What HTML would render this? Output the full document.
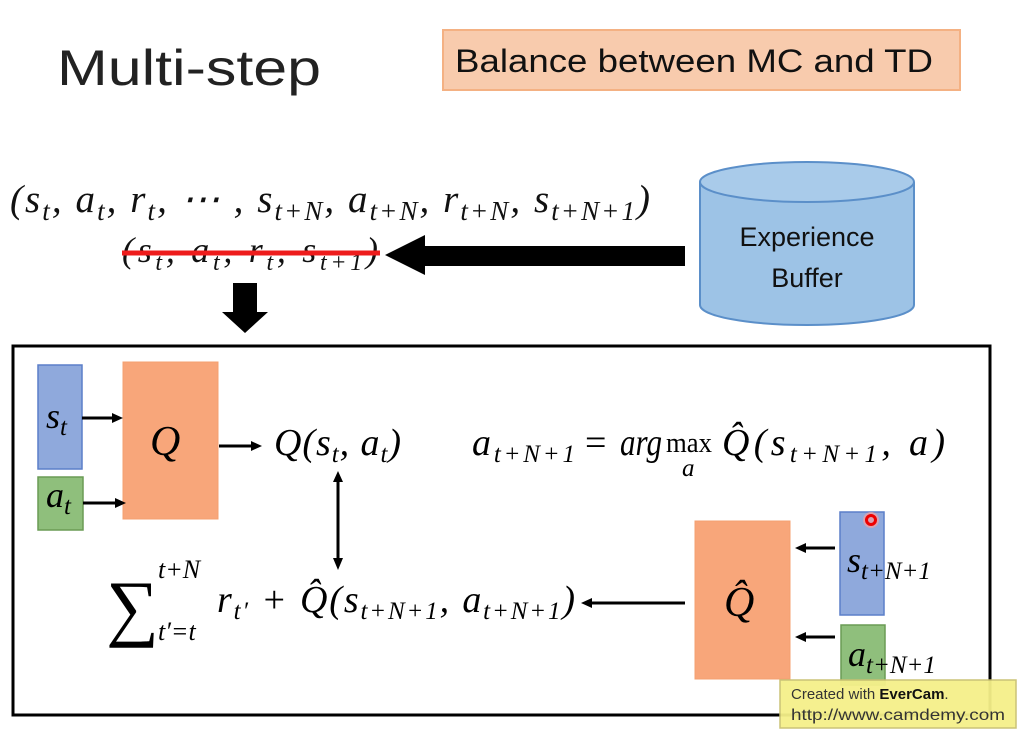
<!DOCTYPE html>
<html><head><meta charset="utf-8"><style>
html,body{margin:0;padding:0;background:#fff;}
svg{display:block}
text{font-family:"Liberation Serif",serif;}
.it{font-style:italic}
.sans{font-family:"Liberation Sans",sans-serif;font-style:normal}
</style></head><body>
<svg width="1029" height="739" viewBox="0 0 1029 739" xmlns="http://www.w3.org/2000/svg">
<rect width="1029" height="739" fill="#fff"/>
<text x="57" y="85" class="sans" font-size="50" fill="#222" textLength="264" lengthAdjust="spacingAndGlyphs">Multi-step</text>
<rect x="443" y="30" width="517" height="60" fill="#f8cbad" stroke="#f4b183" stroke-width="2"/>
<text x="455" y="72" class="sans" font-size="32" fill="#111" textLength="478" lengthAdjust="spacingAndGlyphs">Balance between MC and TD</text>

<text x="10" y="212" font-size="39" class="it" fill="#111" textLength="640">(s<tspan font-size="27" dy="8">t</tspan><tspan dy="-8">, a</tspan><tspan font-size="27" dy="8">t</tspan><tspan dy="-8">, r</tspan><tspan font-size="27" dy="8">t</tspan><tspan dy="-8">, ⋯ , s</tspan><tspan font-size="27" dy="8">t+N</tspan><tspan dy="-8">, a</tspan><tspan font-size="27" dy="8">t+N</tspan><tspan dy="-8">, r</tspan><tspan font-size="27" dy="8">t+N</tspan><tspan dy="-8">, s</tspan><tspan font-size="27" dy="8">t+N+1</tspan><tspan dy="-8">)</tspan></text>
<text x="122" y="262" font-size="36" class="it" fill="#111" textLength="256">(s<tspan font-size="24" dy="8">t</tspan><tspan dy="-8">, a</tspan><tspan font-size="24" dy="8">t</tspan><tspan dy="-8">, r</tspan><tspan font-size="24" dy="8">t</tspan><tspan dy="-8">, s</tspan><tspan font-size="24" dy="8">t+1</tspan><tspan dy="-8">)</tspan></text>
<line x1="122" y1="253" x2="380" y2="253" stroke="#ee1c1c" stroke-width="5"/>
<polygon points="385,255 425,235 425,246 685,246 685,266 425,266 425,275" fill="#000"/>
<polygon points="233,283 257,283 257,312 268,312 245,333 222,312 233,312" fill="#000"/>

<path d="M700,182 L700,305 A107,20 0 0 0 914,305 L914,182" fill="#9dc3e6" stroke="#5b8fc9" stroke-width="2"/>
<ellipse cx="807" cy="182" rx="107" ry="20" fill="#a9cbea" stroke="#5b8fc9" stroke-width="2"/>
<text x="807" y="246" class="sans" font-size="27" text-anchor="middle" fill="#111">Experience</text>
<text x="807" y="287" class="sans" font-size="27" text-anchor="middle" fill="#111">Buffer</text>

<rect x="13" y="346" width="977" height="369" fill="none" stroke="#000" stroke-width="3"/>

<rect x="38" y="365" width="44" height="104" fill="#8fa9dc" stroke="#5b7fc9" stroke-width="1.5"/>
<text x="46" y="428" font-size="36" class="it">s<tspan font-size="25" dy="7">t</tspan></text>
<rect x="38" y="477" width="45" height="53" fill="#8fbf7c" stroke="#6a9b55" stroke-width="1.5"/>
<text x="46" y="507" font-size="36" class="it">a<tspan font-size="25" dy="7">t</tspan></text>
<rect x="123" y="362" width="95" height="157" fill="#f8a67a" stroke="#f4a070" stroke-width="1"/>
<text x="150" y="455" font-size="42" class="it">Q</text>
<g stroke="#000" stroke-width="3" fill="#000">
<line x1="82" y1="418" x2="114" y2="418"/><polygon points="123,418 112,413 112,423" stroke="none"/>
<line x1="83" y1="503" x2="116" y2="503"/><polygon points="126,503 115,498 115,508" stroke="none"/>
<line x1="219" y1="446" x2="252" y2="446"/><polygon points="262,446 251,441 251,451" stroke="none"/>
<line x1="338" y1="480" x2="338" y2="560"/><polygon points="338,471 333,482 343,482" stroke="none"/><polygon points="338,570 333,558 343,558" stroke="none"/>
<line x1="590" y1="603" x2="685" y2="603"/><polygon points="581,603 592,598 592,608" stroke="none"/>
<line x1="805" y1="548" x2="835" y2="548"/><polygon points="795,548 806,543 806,553" stroke="none"/>
<line x1="805" y1="637" x2="835" y2="637"/><polygon points="795,637 806,632 806,642" stroke="none"/>
</g>
<text x="274" y="455" font-size="38" class="it" textLength="127">Q(s<tspan font-size="25" dy="7">t</tspan><tspan dy="-7">, a</tspan><tspan font-size="25" dy="7">t</tspan><tspan dy="-7">)</tspan></text>
<text x="472" y="455" font-size="38" class="it" textLength="103">a<tspan font-size="25" dy="7">t+N+1</tspan></text>
<text x="585" y="455" font-size="38">=</text>
<text x="620" y="455" font-size="38" class="it" textLength="42" lengthAdjust="spacingAndGlyphs">arg</text>
<text x="666" y="452" font-size="28" textLength="46" lengthAdjust="spacingAndGlyphs">max</text>
<text x="682" y="476" font-size="25" class="it">a</text>
<text x="722" y="455" font-size="38" class="it" textLength="223">Q̂(s<tspan font-size="25" dy="7">t+N+1</tspan><tspan dy="-7">, a)</tspan></text>

<text x="106" y="632" font-size="74" fill="#000">∑</text>
<text x="158" y="578" font-size="26" class="it">t+N</text>
<text x="158" y="640" font-size="26" class="it">t′=t</text>
<text x="217" y="612" font-size="38" class="it" textLength="358">r<tspan font-size="25" dy="7">t′</tspan><tspan dy="-7"> + Q̂(s</tspan><tspan font-size="25" dy="7">t+N+1</tspan><tspan dy="-7">, a</tspan><tspan font-size="25" dy="7">t+N+1</tspan><tspan dy="-7">)</tspan></text>

<rect x="695" y="521" width="95" height="158" fill="#f8a67a" stroke="#f4a070" stroke-width="1"/>
<text x="724" y="616" font-size="42" class="it">Q̂</text>
<rect x="840" y="512" width="44" height="103" fill="#8fa9dc" stroke="#5b7fc9" stroke-width="1.5"/>
<text x="847" y="572" font-size="36" class="it">s<tspan font-size="25" dy="7">t+N+1</tspan></text>
<rect x="841" y="625" width="44" height="60" fill="#8fbf7c" stroke="#6a9b55" stroke-width="1.5"/>
<text x="848" y="666" font-size="36" class="it">a<tspan font-size="25" dy="7">t+N+1</tspan></text>
<circle cx="871" cy="520" r="8" fill="#f7a0a0" opacity="0.7"/>
<circle cx="871" cy="520" r="4.5" fill="none" stroke="#e00" stroke-width="3"/>

<rect x="780" y="680" width="236" height="48" fill="#f5f08a" stroke="#c8c070" stroke-width="1.5" opacity="0.95"/>
<text x="791" y="699" class="sans" font-size="15" fill="#333">Created with <tspan font-weight="bold" fill="#111">EverCam</tspan>.</text>
<text x="791" y="720" class="sans" font-size="16" fill="#333" textLength="214" lengthAdjust="spacingAndGlyphs">http://www.camdemy.com</text>
</svg>
</body></html>
